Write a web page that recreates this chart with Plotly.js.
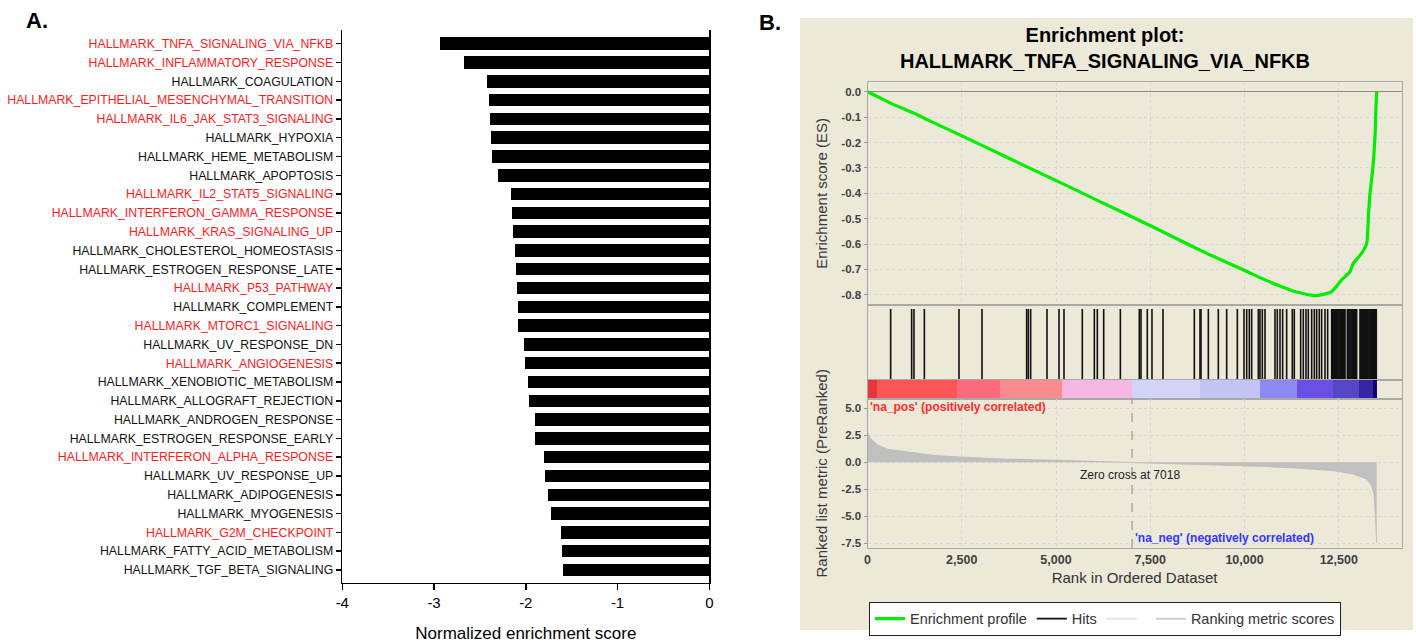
<!DOCTYPE html>
<html>
<head>
<meta charset="utf-8">
<script src="https://cdn.plot.ly/plotly-3.0.1.min.js"></script>
<style>html,body{margin:0;padding:0;background:#fff;}#chart{width:1416px;height:643px;}</style>
</head>
<body>
<div id="chart"></div>
<script>
// ---------- Panel A data ----------
const categories = [
  "HALLMARK_TNFA_SIGNALING_VIA_NFKB","HALLMARK_INFLAMMATORY_RESPONSE","HALLMARK_COAGULATION",
  "HALLMARK_EPITHELIAL_MESENCHYMAL_TRANSITION","HALLMARK_IL6_JAK_STAT3_SIGNALING","HALLMARK_HYPOXIA",
  "HALLMARK_HEME_METABOLISM","HALLMARK_APOPTOSIS","HALLMARK_IL2_STAT5_SIGNALING",
  "HALLMARK_INTERFERON_GAMMA_RESPONSE","HALLMARK_KRAS_SIGNALING_UP","HALLMARK_CHOLESTEROL_HOMEOSTASIS",
  "HALLMARK_ESTROGEN_RESPONSE_LATE","HALLMARK_P53_PATHWAY","HALLMARK_COMPLEMENT",
  "HALLMARK_MTORC1_SIGNALING","HALLMARK_UV_RESPONSE_DN","HALLMARK_ANGIOGENESIS",
  "HALLMARK_XENOBIOTIC_METABOLISM","HALLMARK_ALLOGRAFT_REJECTION","HALLMARK_ANDROGEN_RESPONSE",
  "HALLMARK_ESTROGEN_RESPONSE_EARLY","HALLMARK_INTERFERON_ALPHA_RESPONSE","HALLMARK_UV_RESPONSE_UP",
  "HALLMARK_ADIPOGENESIS","HALLMARK_MYOGENESIS","HALLMARK_G2M_CHECKPOINT",
  "HALLMARK_FATTY_ACID_METABOLISM","HALLMARK_TGF_BETA_SIGNALING"
];
const nes = [-2.93,-2.67,-2.42,-2.40,-2.39,-2.38,-2.37,-2.30,-2.16,-2.15,-2.14,-2.12,-2.11,-2.10,-2.09,
  -2.09,-2.02,-2.01,-1.98,-1.96,-1.90,-1.90,-1.80,-1.79,-1.76,-1.72,-1.62,-1.60,-1.59];
const redSets = ["HALLMARK_TNFA_SIGNALING_VIA_NFKB","HALLMARK_INFLAMMATORY_RESPONSE",
  "HALLMARK_EPITHELIAL_MESENCHYMAL_TRANSITION","HALLMARK_IL6_JAK_STAT3_SIGNALING",
  "HALLMARK_IL2_STAT5_SIGNALING","HALLMARK_INTERFERON_GAMMA_RESPONSE","HALLMARK_KRAS_SIGNALING_UP",
  "HALLMARK_P53_PATHWAY","HALLMARK_MTORC1_SIGNALING","HALLMARK_ANGIOGENESIS",
  "HALLMARK_INTERFERON_ALPHA_RESPONSE","HALLMARK_G2M_CHECKPOINT"];
const nesTicks = [-4,-3,-2,-1,0];

// ---------- Panel B data ----------
const esRank  = [0,300,611,1278,1611,2533,3833,5033,6056,7533,8833,10033,10500,10941,11385,11915,12313,12578,12798,12887,13109,13242,13286,13329,13400,13462,13488,13507];
const esScore = [0,-0.022,-0.045,-0.088,-0.112,-0.176,-0.268,-0.352,-0.425,-0.53,-0.625,-0.706,-0.738,-0.765,-0.789,-0.803,-0.787,-0.741,-0.709,-0.676,-0.636,-0.597,-0.492,-0.40,-0.308,-0.177,-0.059,0];
const hits = [614,1171,1233,1508,2427,3037,4222,4266,4328,4761,5080,5212,5698,6017,6096,6265,6707,
  7210,7255,7422,7546,7838,8669,8820,8846,9041,9306,9527,9810,9987,10058,10128,10190,10367,10411,
  10473,10544,10809,10870,10942,11012,11118,11268,11321,11490,11560,11631,11693,11782,11852,11914,
  11984,12047,12135,12206,
  12312,12335,12361,12384,12410,12433,12458,12482,12505,12531,12554,12580,12603,12627,12650,12666,
  12728,12752,12775,12801,12824,12850,12873,12899,12922,12948,12975,
  13063,13086,13110,13135,13158,13183,13207,13230,13256,13279,13303,13328,13352,13375,13400,13424,13449,13472,13496];
const metricRank  = [0,30,80,150,280,550,900,1340,1780,2530,3720,5000,6000,6500,7018,7600,8240,9528,10589,11472,12356,12887,13242,13374,13435,13470,13490,13507];
const metricValue = [2.9,2.5,2.2,2.0,1.56,1.19,1.03,0.78,0.62,0.47,0.28,0.18,0.08,0.04,0.0,-0.05,-0.12,-0.25,-0.4,-0.56,-0.78,-1.1,-1.56,-2.19,-2.97,-4.8,-7.3,-7.5];
const segStart = [0,250,2370,3515,5150,7010,8820,10400,11380,12340,13050,13400];
const segEnd   = [250,2370,3515,5150,7010,8820,10400,11380,12340,13050,13400,13507];
const segColor = ['#e6383c','#fb5558','#fd6c7c','#fc8b8d','#f6b8e2','#d4d4f8','#c4c4f4','#8a8af2','#6a50e2','#5646c6','#3626a6','#120866'];
const esTicks = [0,-0.1,-0.2,-0.3,-0.4,-0.5,-0.6,-0.7,-0.8];
const metricTicks = [5,2.5,0,-2.5,-5,-7.5];
const rankTicks = [0,2500,5000,7500,10000,12500];
const zeroCross = 7018;

// ---------- geometry helpers (pixels -> paper) ----------
const W = 1416, H = 643;
const px = v => v / W, py = v => 1 - v / H;

const hitX = [], hitY = [];
hits.forEach(h => { hitX.push(h, h, null); hitY.push(0, 1, null); });

const tickFont = {family:'Liberation Sans, Arial, sans-serif', size:11.5, color:'#404040'};
const bold = s => '<b>' + s + '</b>';
const bXdom = [px(867.5), px(1401.7)];
const bXrange = [0, 14170];

const traces = [
  {type:'bar', orientation:'h', x:nes, y:categories, width:0.665, marker:{color:'#000', line:{width:0}},
   xaxis:'x', yaxis:'y', showlegend:false, hoverinfo:'x+y'},
  {type:'scatter', mode:'lines', x:esRank, y:esScore, name:'Enrichment profile', line:{shape:'spline', smoothing:0.6, color:'#00ee00', width:3.2},
   xaxis:'x2', yaxis:'y2'},
  {type:'scatter', mode:'lines', x:hitX, y:hitY, name:'Hits', connectgaps:false,
   line:{color:'#111', width:1.6}, xaxis:'x3', yaxis:'y3'},
  {type:'bar', x:segStart.map((s,i)=>(s+segEnd[i])/2), y:segStart.map(()=>1),
   width:segStart.map((s,i)=>segEnd[i]-s), marker:{color:segColor, line:{width:0}},
   xaxis:'x4', yaxis:'y4', showlegend:false, hoverinfo:'skip'},
  {type:'scatter', mode:'lines', x:metricRank, y:metricValue, fill:'tozeroy', fillcolor:'#c0c0c0',
   line:{color:'#b8b8b8', width:0.8}, xaxis:'x5', yaxis:'y5', showlegend:false},
  {type:'scatter', mode:'lines', x:[null], y:[null], name:' ', line:{color:'#e4e4e4', width:2}, xaxis:'x5', yaxis:'y5'},
  {type:'scatter', mode:'lines', x:[null], y:[null], name:'Ranking metric scores', line:{color:'#d0d0d0', width:2}, xaxis:'x5', yaxis:'y5'}
];

const bAxisCommon = {domain:bXdom, range:bXrange, showline:true, mirror:true, linecolor:'#a8a8a8', linewidth:1,
  zeroline:false, fixedrange:true};

const layout = {
  width:W, height:H, margin:{l:0,r:0,t:0,b:0},
  paper_bgcolor:'#fff', plot_bgcolor:'#fff',
  font:{family:'Liberation Sans, Arial, sans-serif', color:'#000'},
  bargap:0,
  title:{text:'<b>Enrichment plot:<br>HALLMARK_TNFA_SIGNALING_VIA_NFKB</b>', x:px(1105), xanchor:'center',
    y:py(42), yanchor:'middle', font:{size:20, color:'#000', family:'Liberation Sans, Arial, sans-serif'}},
  xaxis:{domain:[px(342.3), px(709.3)], range:[-4,0], anchor:'y', showline:true, linecolor:'#000', linewidth:1.6,
    ticks:'outside', ticklen:6, tickwidth:1.5, tickcolor:'#000', tickvals:nesTicks, ticktext:nesTicks.map(String),
    tickfont:{size:15, color:'#000'}, showgrid:false, zeroline:false,
    title:{text:'Normalized enrichment score', font:{size:17, color:'#000'}, standoff:20}},
  yaxis:{domain:[py(582.7), py(30)], type:'category', categoryarray:categories, range:[28.68,-0.73], anchor:'x',
    showline:true, mirror:true, linecolor:'#000', linewidth:1.6, ticks:'outside', ticklen:5, tickwidth:1.5, tickcolor:'#000',
    tickvals:categories,
    ticktext:categories.map(c => redSets.includes(c) ? '<span style="color:#ff1a1a">'+c+'</span>' : c),
    tickfont:{size:12.3, color:'#111'}, showgrid:false, zeroline:false},
  xaxis2:Object.assign({}, bAxisCommon, {anchor:'y2', showticklabels:false, ticks:'', showgrid:true,
    gridcolor:'#d6d6d6', griddash:'dot', tickvals:rankTicks}),
  yaxis2:{domain:[py(305), py(81.7)], range:[-0.84,0.0394], anchor:'x2', showline:true, mirror:true, linecolor:'#a8a8a8',
    tickvals:esTicks, ticktext:esTicks.map(v=>bold(v.toFixed(1))), tickfont:tickFont, ticks:'outside', ticklen:3, tickcolor:'#999',
    showgrid:true, gridcolor:'#d6d6d6', griddash:'dot', zeroline:true, zerolinecolor:'#8c8c8c', zerolinewidth:1.5,
    title:{text:'Enrichment score (ES)', font:{size:15, color:'#3a3a3a'}, standoff:10}},
  xaxis3:Object.assign({}, bAxisCommon, {anchor:'y3', showticklabels:false, ticks:'', showgrid:false}),
  yaxis3:{domain:[py(380), py(305)], range:[0,1.056], anchor:'x3', showline:true, mirror:true, linecolor:'#a8a8a8',
    showticklabels:false, showgrid:false, zeroline:false, ticks:''},
  xaxis4:Object.assign({}, bAxisCommon, {anchor:'y4', showticklabels:false, ticks:'', showgrid:false}),
  yaxis4:{domain:[py(398.5), py(380)], range:[0,1], anchor:'x4', showline:true, mirror:true, linecolor:'#a8a8a8',
    showticklabels:false, showgrid:false, zeroline:false, ticks:''},
  xaxis5:Object.assign({}, bAxisCommon, {anchor:'y5', showgrid:true, gridcolor:'#d6d6d6', griddash:'dot',
    tickvals:rankTicks, ticktext:rankTicks.map(v=>bold(v.toLocaleString('en-US'))),
    tickfont:{family:'Liberation Sans, Arial, sans-serif', size:12.5, color:'#404040'},
    ticks:'', title:{text:'Rank in Ordered Dataset', font:{size:15, color:'#333'}, standoff:6}}),
  yaxis5:{domain:[py(548), py(398.5)], range:[-7.96,5.91], anchor:'x5', showline:true, mirror:true, linecolor:'#a8a8a8',
    tickvals:metricTicks, ticktext:metricTicks.map(v=>bold(v.toFixed(1))), tickfont:tickFont, ticks:'outside', ticklen:3, tickcolor:'#999',
    showgrid:true, gridcolor:'#d6d6d6', griddash:'dot', zeroline:false,
    title:{text:'Ranked list metric (PreRanked)', font:{size:15, color:'#3a3a3a'}, standoff:10}},
  shapes:[
    {type:'rect', xref:'paper', yref:'paper', x0:px(800), x1:px(1413), y0:py(630), y1:py(18),
     fillcolor:'#ece9d8', line:{width:0}, layer:'below'},
    {type:'line', xref:'x5', yref:'y5 domain', x0:zeroCross, x1:zeroCross, y0:0, y1:1,
     line:{color:'#9a9a9a', width:1.2, dash:'dash'}}
  ],
  annotations:[
    {text:'<b>A.</b>', xref:'paper', yref:'paper', x:px(36.5), y:py(21), xanchor:'center', yanchor:'middle',
     showarrow:false, font:{size:22, color:'#000'}},
    {text:'<b>B.</b>', xref:'paper', yref:'paper', x:px(770), y:py(22), xanchor:'center', yanchor:'middle',
     showarrow:false, font:{size:22, color:'#000'}},
    {text:"<b>'na_pos' (positively correlated)</b>", xref:'x5', yref:'y5', x:0, y:5.15, xanchor:'left', yanchor:'middle',
     showarrow:false, font:{size:12, color:'#ff2d2d'}},
    {text:"<b>'na_neg' (negatively correlated)</b>", xref:'x5', yref:'y5', x:7040, y:-7.03, xanchor:'left', yanchor:'middle',
     showarrow:false, font:{size:12, color:'#3535ff'}},
    {text:'Zero cross at ' + zeroCross, xref:'x5', yref:'y5', x:6960, y:-1.19, xanchor:'center', yanchor:'middle',
     showarrow:false, font:{size:12, color:'#222'}}
  ],
  showlegend:true,
  legend:{orientation:'h', x:px(1105), xanchor:'center', y:py(601.7), yanchor:'top', bgcolor:'#fff',
    bordercolor:'#222', borderwidth:1, font:{size:14.5, color:'#333'}, itemwidth:30, traceorder:'normal'}
};

Plotly.newPlot('chart', traces, layout, {staticPlot:true, displayModeBar:false});
</script>
</body>
</html>
